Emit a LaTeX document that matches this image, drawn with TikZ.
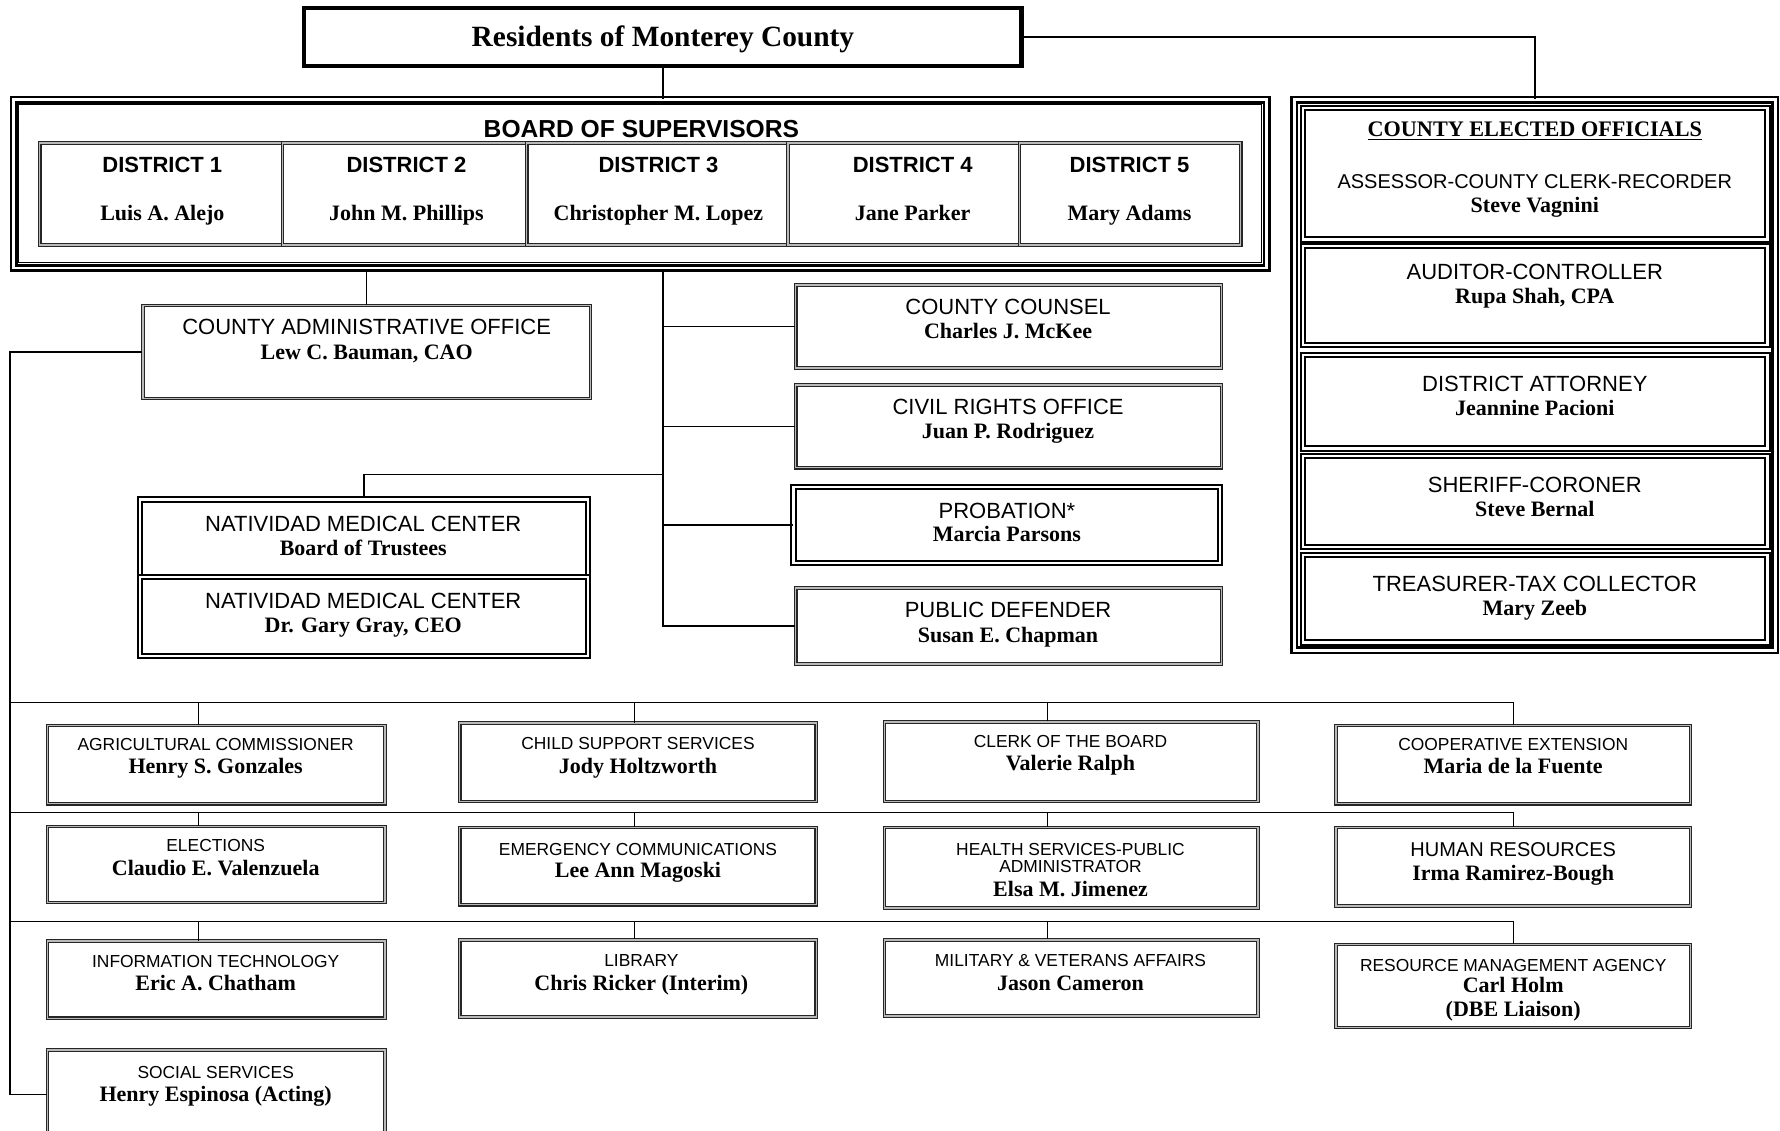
\documentclass[tikz,border=0pt]{standalone}
\usepackage{fontspec}
\setmainfont{Liberation Serif}
\setsansfont{Liberation Sans}
\usetikzlibrary{fit}
\begin{document}
\begin{tikzpicture}[x=0.5676pt,y=-0.5676pt,
  every node/.style={inner sep=0pt},
  cell/.style={draw=black!85, line width=0.55pt, double=gray!55, double distance=0.7pt, inner sep=0pt},
  ebox/.style={draw=black, line width=1pt, double=white, double distance=1.1pt, inner sep=0pt},
  heavy/.style={draw=black, line width=1.3pt, double=white, double distance=1.4pt, inner sep=0pt},
  resbox/.style={draw=black, line width=2.2pt, inner sep=0pt},
  conn/.style={draw=black, line width=0.75pt},
  bus/.style={draw=black, line width=0.65pt},
  lbl/.style={font=\sffamily\fontsize{11}{13}\selectfont, anchor=base, yshift=-3.9pt},
  dlbl/.style={font=\sffamily\bfseries\fontsize{11}{13}\selectfont, anchor=base, yshift=-3.9pt},
  mlbl/.style={font=\sffamily\fontsize{10}{12}\selectfont, anchor=base, yshift=-3.6pt},
  slbl/.style={font=\sffamily\fontsize{8.7}{10}\selectfont, anchor=base, yshift=-3.1pt},
  nm/.style={font=\bfseries\fontsize{11}{13}\selectfont, anchor=base, yshift=-3.6pt},
]
\useasboundingbox (0,0) rectangle (1568,996);

% ---------- top ----------
\node[resbox, fit={(268,7) (900,58)}] (res) {};
\node[font=\bfseries\fontsize{14.7}{16}\selectfont, anchor=base, yshift=-4.9pt] (rest) at (584,32) {Residents of Monterey County};

% ---------- board of supervisors ----------
\node[heavy, fit={(12,88) (1116,236)}] (bos) {};
\draw[line width=0.5pt] ([xshift=3.2pt,yshift=-3.2pt]bos.north west) rectangle ([xshift=-3.2pt,yshift=3.2pt]bos.south east);
\node[font=\sffamily\bfseries\fontsize{12.3}{14}\selectfont, anchor=base, yshift=-4.4pt] (bost) at (565,113) {BOARD OF SUPERVISORS};
\node[cell, fit={(35,126) (249,216)}] (d1) {};
\node[cell, fit={(249,126) (464,216)}] (d2) {};
\node[cell, fit={(464,126) (694,216)}] (d3) {};
\node[cell, fit={(694,126) (898,216)}] (d4) {};
\node[cell, fit={(898,126) (1093,216)}] (d5) {};
\node[dlbl] (d1a) at (143,145) {DISTRICT 1};
\node[nm]  (d1b) at (143,188) {Luis A. Alejo};
\node[dlbl] (d2a) at (358,145) {DISTRICT 2};
\node[nm]  (d2b) at (358,188) {John M. Phillips};
\node[dlbl] (d3a) at (580,145) {DISTRICT 3};
\node[nm]  (d3b) at (580,188) {Christopher M. Lopez};
\node[dlbl] (d4a) at (804,145) {DISTRICT 4};
\node[nm]  (d4b) at (804,188) {Jane Parker};
\node[dlbl] (d5a) at (995,145) {DISTRICT 5};
\node[nm]  (d5b) at (995,188) {Mary Adams};

% ---------- county elected officials ----------
\node[heavy, fit={(1140,88) (1564,573)}] (elec) {};
\node[ebox, fit={(1148,95) (1557,211)}] (e0) {};
\node[ebox, fit={(1148,217) (1557,304)}] (e1) {};
\node[ebox, fit={(1148,313) (1557,395)}] (e2) {};
\node[ebox, fit={(1148,402) (1557,482)}] (e3) {};
\node[ebox, fit={(1148,489) (1557,566)}] (e4) {};
\node[font=\bfseries\fontsize{11.1}{13}\selectfont, anchor=base, yshift=-3.6pt] (e0t) at (1352,114) {\underline{COUNTY ELECTED OFFICIALS}};
\node[mlbl] (e0a) at (1352,160) {ASSESSOR-COUNTY CLERK-RECORDER};
\node[nm]   (e0b) at (1352,181) {Steve Vagnini};
\node[lbl] (e1a) at (1352,239) {AUDITOR-CONTROLLER};
\node[nm]  (e1b) at (1352,261) {Rupa Shah, CPA};
\node[lbl] (e2a) at (1352,338) {DISTRICT ATTORNEY};
\node[nm]  (e2b) at (1352,360) {Jeannine Pacioni};
\node[lbl] (e3a) at (1352,427) {SHERIFF-CORONER};
\node[nm]  (e3b) at (1352,449) {Steve Bernal};
\node[lbl] (e4a) at (1352,514) {TREASURER-TAX COLLECTOR};
\node[nm]  (e4b) at (1352,536) {Mary Zeeb};

% ---------- middle ----------
\node[cell, fit={(126,269) (520,351)}] (cao) {};
\node[lbl] (caoa) at (323,288) {COUNTY ADMINISTRATIVE OFFICE};
\node[nm]  (caob) at (323,310) {Lew C. Bauman, CAO};

\node[ebox, fit={(123,440) (518,508)}] (nmc1) {};
\node[ebox, fit={(123,508) (518,578)}] (nmc2) {};
\node[lbl] (nmc1a) at (320,461) {NATIVIDAD MEDICAL CENTER};
\node[nm]  (nmc1b) at (320,483) {Board of Trustees};
\node[lbl] (nmc2a) at (320,529) {NATIVIDAD MEDICAL CENTER};
\node[nm]  (nmc2b) at (320,551) {Dr. Gary Gray, CEO};

\node[cell, fit={(701,251) (1076,324)}] (cc) {};
\node[lbl] (cca) at (888,270) {COUNTY COUNSEL};
\node[nm]  (ccb) at (888,292) {Charles J. McKee};
\node[cell, fit={(701,339) (1076,412)}] (cr) {};
\node[lbl] (cra) at (888,358) {CIVIL RIGHTS OFFICE};
\node[nm]  (crb) at (888,380) {Juan P. Rodriguez};
\node[ebox, fit={(699,429) (1075,496)}] (prob) {};
\node[lbl] (proba) at (887,450) {PROBATION*};
\node[nm]  (probb) at (887,471) {Marcia Parsons};
\node[cell, fit={(701,518) (1076,585)}] (pd) {};
\node[lbl] (pda) at (888,537) {PUBLIC DEFENDER};
\node[nm]  (pdb) at (888,560) {Susan E. Chapman};

% ---------- bottom grid ----------
\node[cell, fit={(42,639) (339,708)}] (agri) {};
\node[slbl] (agria) at (190,656) {AGRICULTURAL COMMISSIONER};
\node[nm]   (agrib) at (190,675) {Henry S. Gonzales};
\node[cell, fit={(405,637) (719,706)}] (css) {};
\node[slbl] (cssa) at (562,655) {CHILD SUPPORT SERVICES};
\node[nm]   (cssb) at (562,675) {Jody Holtzworth};
\node[cell, fit={(779,636) (1108,706)}] (clerk) {};
\node[slbl] (clerka) at (943,653) {CLERK OF THE BOARD};
\node[nm]   (clerkb) at (943,672) {Valerie Ralph};
\node[cell, fit={(1177,639) (1489,708)}] (coop) {};
\node[slbl] (coopa) at (1333,656) {COOPERATIVE EXTENSION};
\node[nm]   (coopb) at (1333,675) {Maria de la Fuente};

\node[cell, fit={(42,728) (339,795)}] (elect) {};
\node[slbl] (electa) at (190,745) {ELECTIONS};
\node[nm]   (electb) at (190,765) {Claudio E. Valenzuela};
\node[cell, fit={(405,729) (719,797)}] (emerg) {};
\node[slbl] (emerga) at (562,748) {EMERGENCY COMMUNICATIONS};
\node[nm]   (emergb) at (562,767) {Lee Ann Magoski};
\node[cell, fit={(779,729) (1108,800)}] (hs) {};
\node[slbl] (hsa) at (943,748) {HEALTH SERVICES-PUBLIC};
\node[slbl] (hsb) at (943,763) {ADMINISTRATOR};
\node[nm]   (hsc) at (943,783) {Elsa M. Jimenez};
\node[cell, fit={(1177,729) (1489,798)}] (hr) {};
\node[mlbl] (hra) at (1333,748) {HUMAN RESOURCES};
\node[nm]   (hrb) at (1333,769) {Irma Ramirez-Bough};

\node[cell, fit={(42,829) (339,897)}] (it) {};
\node[slbl] (ita) at (190,847) {INFORMATION TECHNOLOGY};
\node[nm]   (itb) at (190,866) {Eric A. Chatham};
\node[cell, fit={(405,828) (719,896)}] (lib) {};
\node[slbl] (liba) at (565,846) {LIBRARY};
\node[nm]   (libb) at (565,866) {Chris Ricker (Interim)};
\node[cell, fit={(779,828) (1108,895)}] (mil) {};
\node[slbl] (mila) at (943,846) {MILITARY \& VETERANS AFFAIRS};
\node[nm]   (milb) at (943,866) {Jason Cameron};
\node[cell, fit={(1177,832) (1489,905)}] (rma) {};
\node[slbl] (rmaa) at (1333,850) {RESOURCE MANAGEMENT AGENCY};
\node[nm]   (rmab) at (1333,868) {Carl Holm};
\node[nm]   (rmac) at (1333,889) {(DBE Liaison)};

\node[cell, fit={(42,925) (339,1003)}] (soc) {};
\node[slbl] (soca) at (190,945) {SOCIAL SERVICES};
\node[nm]   (socb) at (190,964) {Henry Espinosa (Acting)};

% ---------- connectors ----------
\draw[conn] (res.south) -- (res.south |- bos.north);
\draw[conn] (res.east) -| (elec.north);

\coordinate (trtop) at (res.south |- bos.south);
\draw[conn] (trtop) |- (pd.west);
\draw[conn] (trtop |- cc.west) -- (cc.west);
\draw[conn] (trtop |- cr.west) -- (cr.west);
\draw[conn] (trtop |- prob.west) -- (prob.west);
\coordinate (nmcj) at (585,418);
\draw[conn] (nmcj) -| (nmc1.north);
\draw[conn] (cao.north |- bos.south) -- (cao.north);

\coordinate (spx) at (9,0);
\draw[conn] (cao.west) -| (spx |- soc.west) -- (soc.west);

\coordinate (k1) at (175,0);
\coordinate (k2) at (559,0);
\coordinate (k3) at (923,0);
\coordinate (b1) at (9,619);
\coordinate (b2) at (9,716);
\coordinate (b3) at (9,812);
\draw[bus] (b1) -| (coop.north);
\draw[bus] (b1 -| k1) -- (agri.north -| k1);
\draw[bus] (b1 -| k2) -- (css.north -| k2);
\draw[bus] (b1 -| k3) -- (clerk.north -| k3);
\draw[bus] (b2) -| (hr.north);
\draw[bus] (b2 -| k1) -- (elect.north -| k1);
\draw[bus] (b2 -| k2) -- (emerg.north -| k2);
\draw[bus] (b2 -| k3) -- (hs.north -| k3);
\draw[bus] (b3) -| (rma.north);
\draw[bus] (b3 -| k1) -- (it.north -| k1);
\draw[bus] (b3 -| k2) -- (lib.north -| k2);
\draw[bus] (b3 -| k3) -- (mil.north -| k3);
\end{tikzpicture}
\end{document}
